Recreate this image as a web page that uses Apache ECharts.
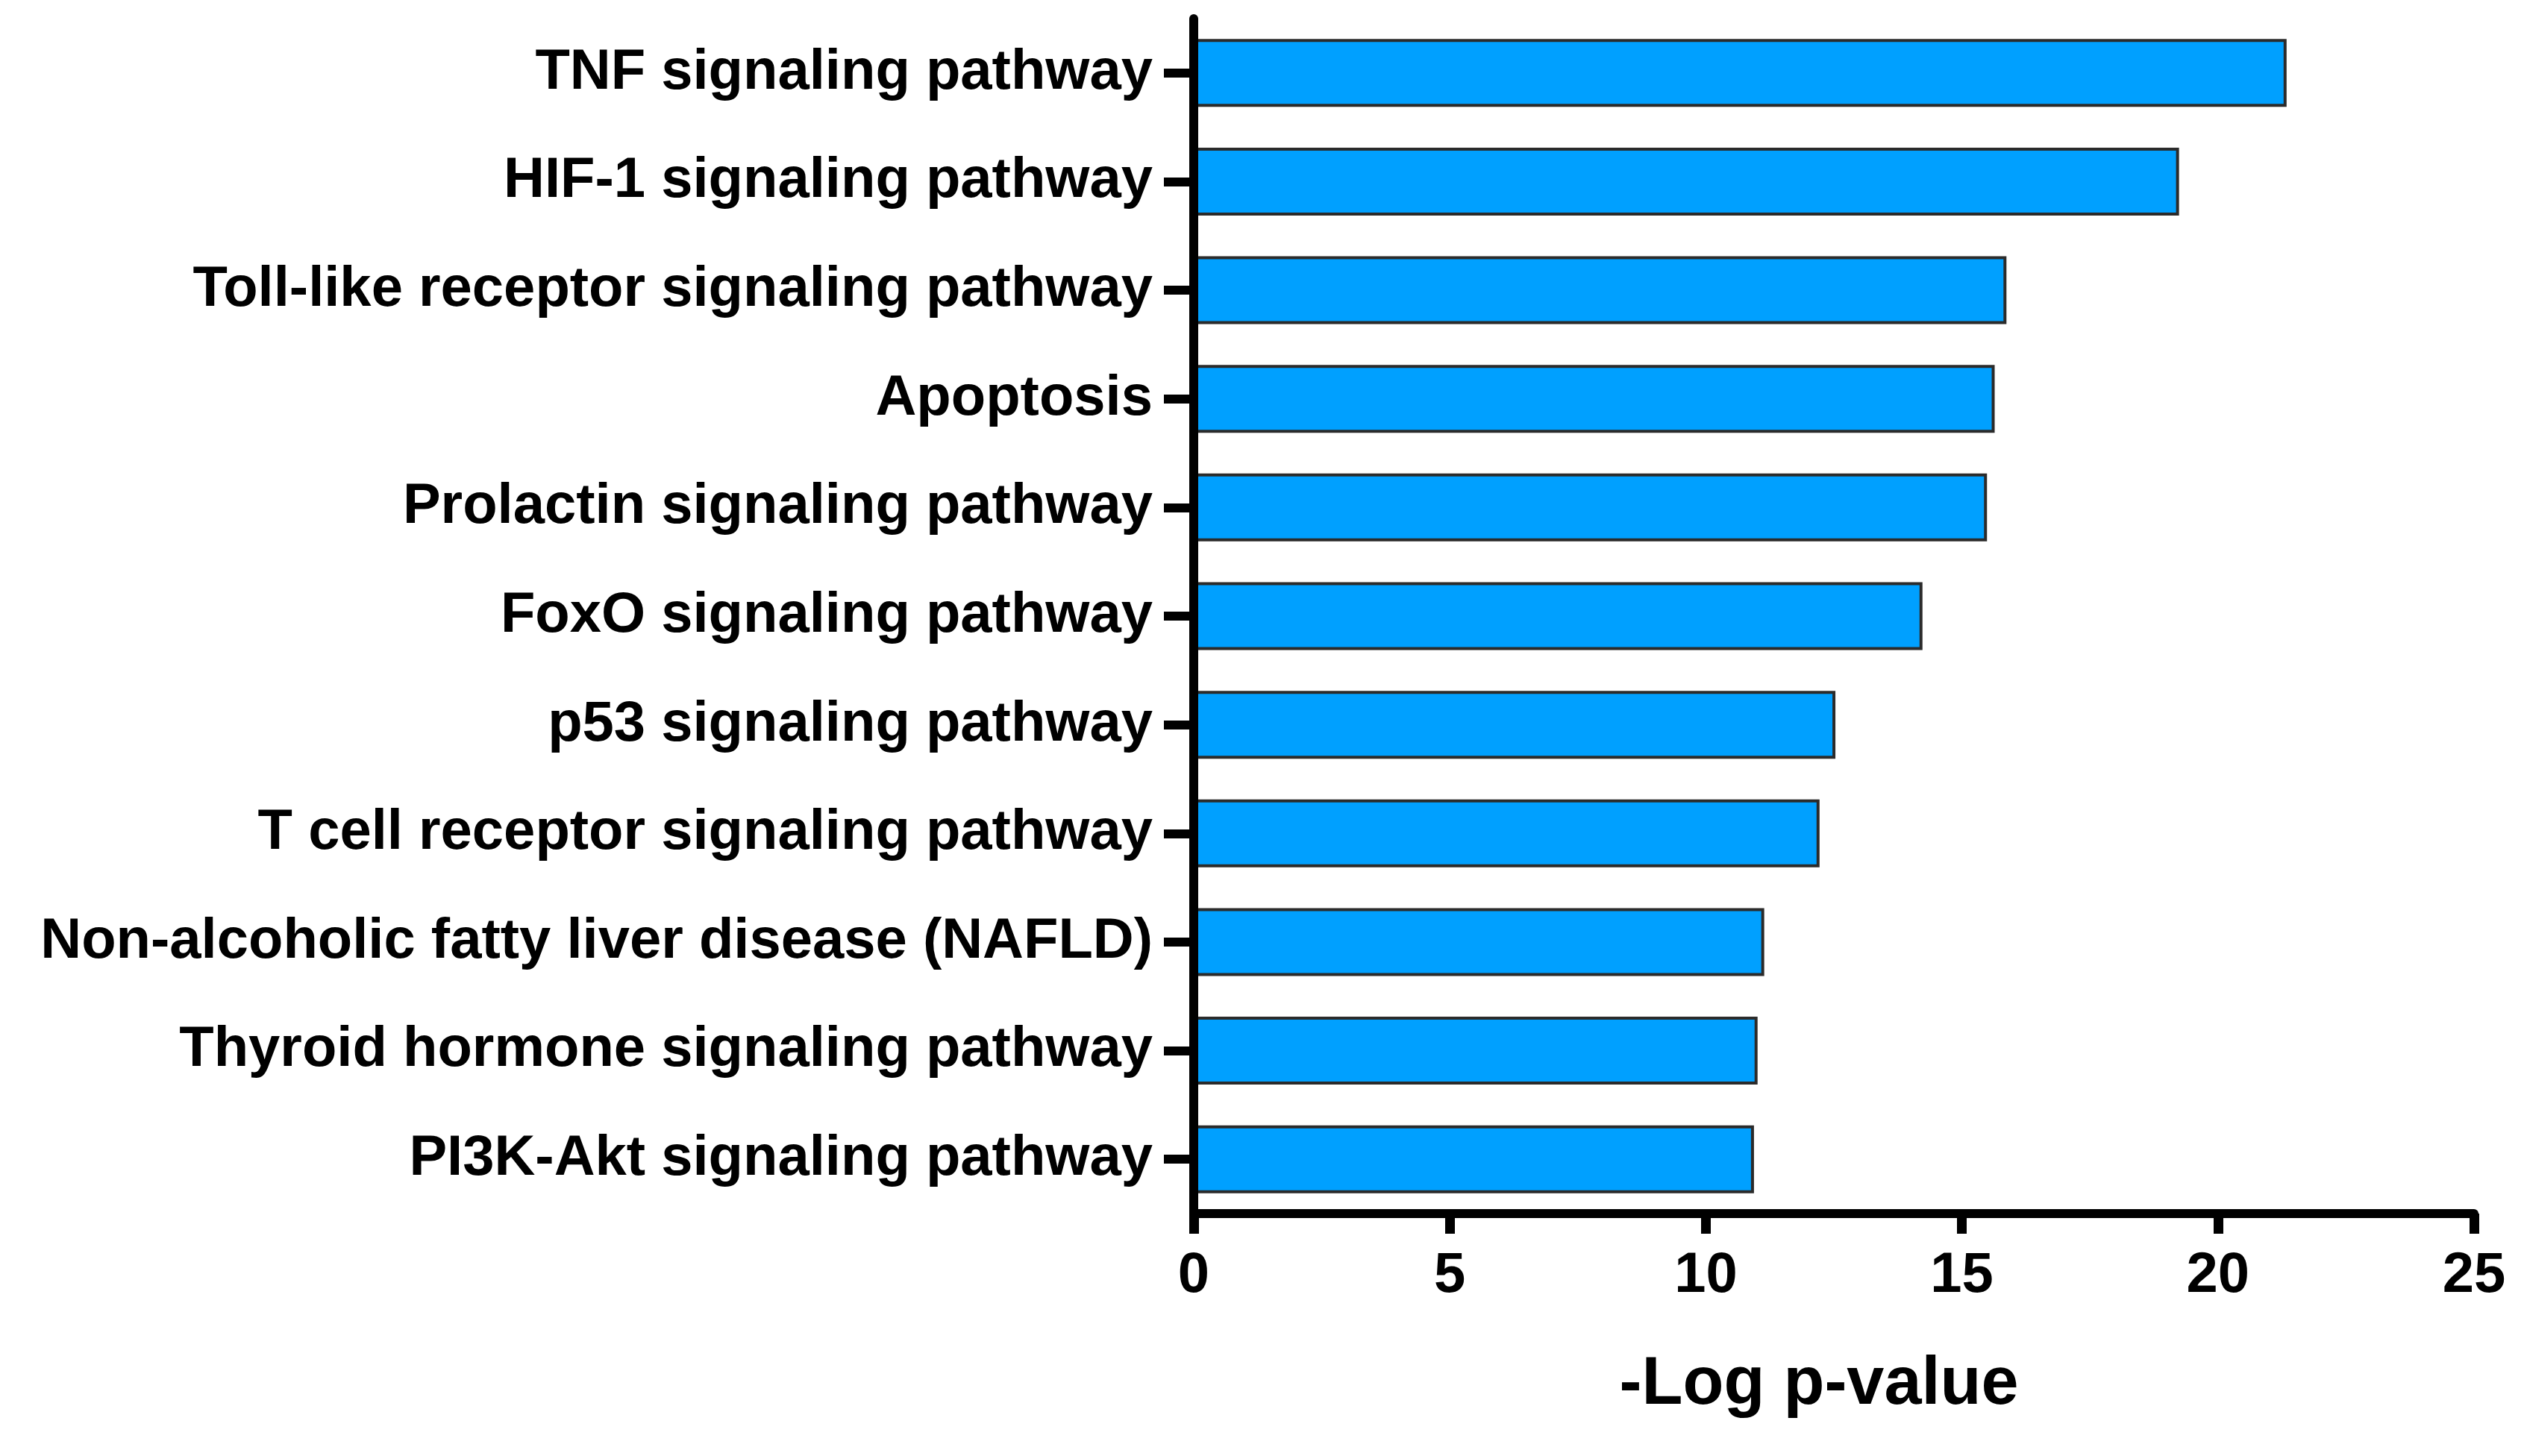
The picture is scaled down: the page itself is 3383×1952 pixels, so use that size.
<!DOCTYPE html>
<html>
<head>
<meta charset="utf-8">
<script src="https://cdn.jsdelivr.net/npm/echarts@6/dist/echarts.min.js"></script>
<style>
html,body{margin:0;padding:0;background:#fff;}
#chart{width:3383px;height:1952px;}
</style>
</head>
<body>
<div id="chart"></div>
<script>
const categories = [
  'TNF signaling pathway',
  'HIF-1 signaling pathway',
  'Toll-like receptor signaling pathway',
  'Apoptosis',
  'Prolactin signaling pathway',
  'FoxO signaling pathway',
  'p53 signaling pathway',
  'T cell receptor signaling pathway',
  'Non-alcoholic fatty liver disease (NAFLD)',
  'Thyroid hormone signaling pathway',
  'PI3K-Akt signaling pathway'
];
const values = [21.34, 19.24, 15.87, 15.64, 15.49, 14.23, 12.53, 12.22, 11.14, 11.01, 10.94];
const xTicks = [0, 5, 10, 15, 20, 25];
const xTitle = '-Log p-value';

const FONT = "'Liberation Sans', Arial, sans-serif";
const chart = echarts.init(document.getElementById('chart'), null, {renderer: 'canvas', devicePixelRatio: 1});
chart.setOption({
  animation: false,
  backgroundColor: '#ffffff',
  grid: {left: 1600, right: 3383 - 3316, top: 25, bottom: 1952 - 1627, containLabel: false},
  xAxis: {
    type: 'value',
    min: xTicks[0],
    max: xTicks[xTicks.length - 1],
    interval: xTicks[1] - xTicks[0],
    z: 10,
    splitLine: {show: false},
    axisLine: {show: true, lineStyle: {color: '#000', width: 12}},
    axisTick: {show: true, length: 27, lineStyle: {color: '#000', width: 13}},
    axisLabel: {
      margin: 46, color: '#000', fontFamily: FONT, fontWeight: 'bold', fontSize: 76,
      formatter: v => xTicks.includes(v) ? String(v) : ''
    },
    name: xTitle,
    nameLocation: 'middle',
    nameGap: 185,
    nameTextStyle: {color: '#000', fontFamily: FONT, fontWeight: 'bold', fontSize: 90, padding: [0, 40, 0, 0]}
  },
  yAxis: {
    type: 'category',
    data: categories,
    inverse: true,
    z: 10,
    axisLine: {show: true, lineStyle: {color: '#000', width: 12}},
    axisTick: {show: true, alignWithLabel: true, length: 40, lineStyle: {color: '#000', width: 12}},
    axisLabel: {margin: 55, color: '#000', fontFamily: FONT, fontWeight: 'bold', fontSize: 76},
    splitLine: {show: false}
  },
  series: [{
    type: 'bar',
    data: values,
    barWidth: 91,
    itemStyle: {color: '#00a0ff', borderColor: '#2b2b2b', borderWidth: 4},
    emphasis: {disabled: true}
  }]
});
</script>
</body>
</html>
